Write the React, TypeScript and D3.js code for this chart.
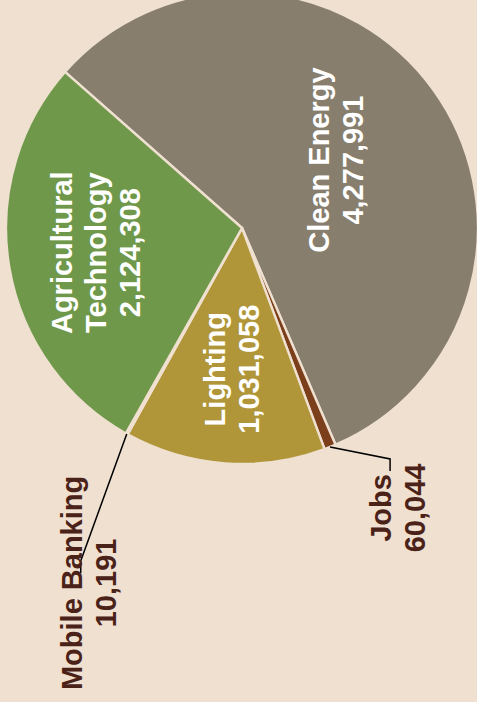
import * as d3 from "d3";

// slice data, clockwise from the top-left edge
const categories = ["Clean Energy", "Jobs", "Lighting", "Mobile Banking", "Agricultural Technology"];
const values = [4277991, 60044, 1031058, 10191, 2124308];
const colors = ["#877e6e", "#7c3f1b", "#b09639", "#d3e2e2", "#6f984b"];
const labelLines: string[][] = [
  ["Clean Energy"],
  ["Jobs"],
  ["Lighting"],
  ["Mobile Banking"],
  ["Agricultural", "Technology"],
];

const W = 477;
const H = 702;
const BG = "#efe0d0";
const cx = 242;
const cy = 228;
const radius = 236;
const fontSize = 29;
const lineHeight = 34;

// where each inside label sits, as a share of the radius
const insideRadius: Record<string, number> = {
  "Clean Energy": 0.49,
  Lighting: 0.6,
  "Agricultural Technology": 0.63,
};

// outside labels: leader elbow offset from the arc edge, label centre offset from leader end
const outsideLayout: Record<string, { elbow: [number, number]; text: [number, number] }> = {
  Jobs: { elbow: [60, 12], text: [8, 37] },
  "Mobile Banking": { elbow: [-46, 127], text: [8, 10] },
};

const fmt = d3.format(",");

function Label({ x, y, lines, fill }: { x: number; y: number; lines: string[]; fill: string }) {
  const n = lines.length;
  return (
    <g transform={`translate(${x},${y}) rotate(-90)`}>
      {lines.map((t, i) => (
        <text
          key={i}
          x={0}
          y={(i - (n - 1) / 2) * lineHeight}
          dy="0.35em"
          textAnchor="middle"
          fill={fill}
          fontSize={fontSize}
          fontWeight="bold"
          fontFamily="'Liberation Sans', Arial, Helvetica, sans-serif"
        >
          {t}
        </text>
      ))}
    </g>
  );
}

export default function App() {
  const data = categories.map((c, i) => ({ name: c, value: values[i], color: colors[i], lines: labelLines[i] }));
  const start = (-48.6 * Math.PI) / 180;
  const pie = d3
    .pie<(typeof data)[number]>()
    .sort(null)
    .value((d) => d.value)
    .startAngle(start)
    .endAngle(start + 2 * Math.PI);
  const arcs = pie(data);
  const arc = d3.arc<d3.PieArcDatum<(typeof data)[number]>>().innerRadius(0).outerRadius(radius);

  const polar = (a: number, r: number): [number, number] => [Math.sin(a) * r, -Math.cos(a) * r];

  return (
    <div style={{ position: "fixed", left: 0, top: 0, width: W, height: H }}>
      <svg width={W} height={H} style={{ display: "block" }}>
        <rect width={W} height={H} fill={BG} />
        <g transform={`translate(${cx},${cy})`}>
          {arcs.map((a, i) => (
            <path key={i} d={arc(a) || ""} fill={a.data.color} stroke={BG} strokeWidth={2.4} strokeLinejoin="round" />
          ))}
          {arcs.map((a, i) => {
            const mid = (a.startAngle + a.endAngle) / 2;
            const name = a.data.name;
            const valueText = fmt(a.data.value);
            if (insideRadius[name] !== undefined) {
              const [x, y] = polar(mid, radius * insideRadius[name]);
              return <Label key={i} x={x} y={y} lines={[...a.data.lines, valueText]} fill="#ffffff" />;
            }
            const lay = outsideLayout[name];
            const [sx, sy] = polar(mid, radius);
            const ex = sx + lay.elbow[0];
            const ey = sy + lay.elbow[1];
            const endY = ey + 12;
            return (
              <g key={i}>
                <polyline
                  points={`${sx},${sy} ${ex},${ey} ${ex},${endY}`}
                  fill="none"
                  stroke="#000"
                  strokeWidth={1.5}
                />
                <Label
                  x={ex + lay.text[0]}
                  y={endY + lay.text[1]}
                  lines={[...a.data.lines, valueText]}
                  fill="#4a2218"
                />
              </g>
            );
          })}
        </g>
      </svg>
    </div>
  );
}
